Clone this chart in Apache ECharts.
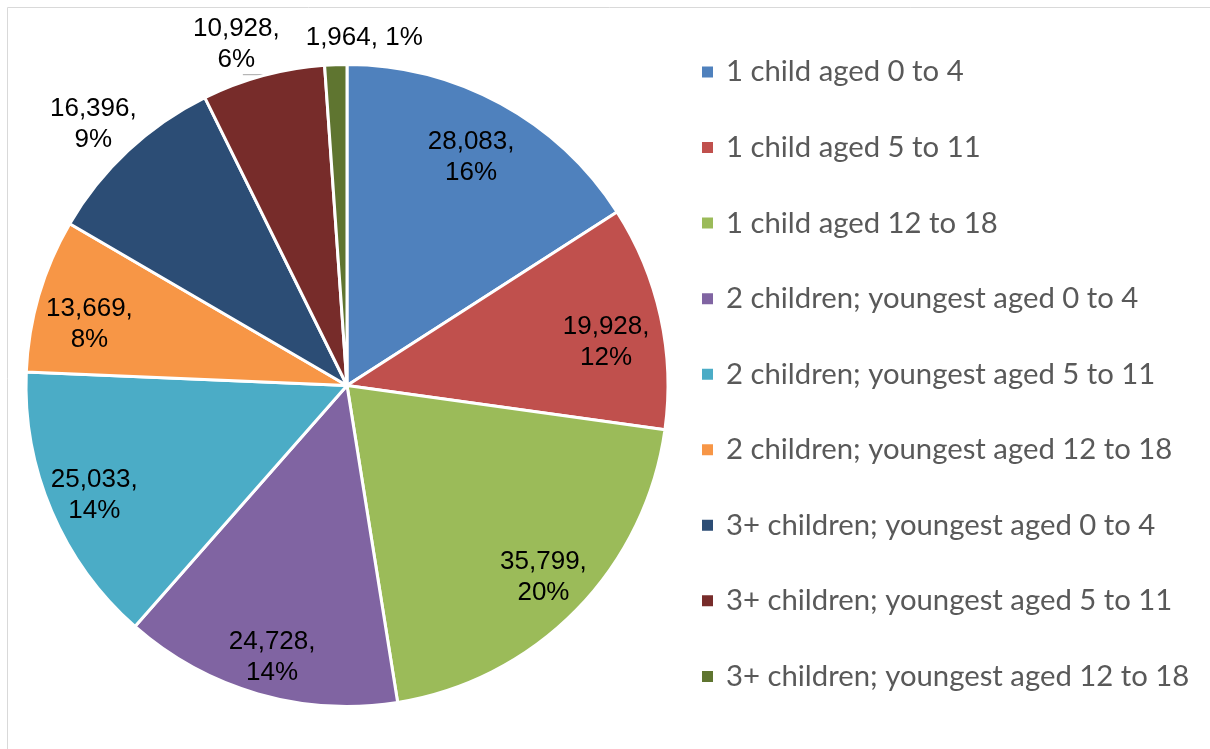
<!DOCTYPE html>
<html>
<head>
<meta charset="utf-8">
<script src="https://cdn.jsdelivr.net/npm/echarts@6/dist/echarts.min.js"></script>
<style>html,body{margin:0;padding:0;background:#fff}#chart{width:1210px;height:749px}</style>
</head>
<body>
<div id="chart"></div>
<script>
const categories = [
  '1 child aged 0 to 4',
  '1 child aged 5 to 11',
  '1 child aged 12 to 18',
  '2 children; youngest aged 0 to 4',
  '2 children; youngest aged 5 to 11',
  '2 children; youngest aged 12 to 18',
  '3+ children; youngest aged 0 to 4',
  '3+ children; youngest aged 5 to 11',
  '3+ children; youngest aged 12 to 18'
];
const values = [28083, 19928, 35799, 24728, 25033, 13669, 16396, 10928, 1964];
const colors = ['#4F81BD', '#C0504D', '#9BBB59', '#8064A2', '#4BACC6', '#F79646', '#2C4D75', '#772C2A', '#5F7530'];
const outsideLabels = [6, 7, 8];          // indices whose labels sit outside the pie
const singleLineLabels = [8];             // labels written on one line
const leaderLineLabels = [7];             // labels with a leader line
// small label position nudges (px)
const labelNudge = {0: [-5, 8], 1: [-4, 15], 2: [4, 3], 3: [0, 13], 4: [-5, 4], 5: [1, 15], 6: [-4, 6], 7: [-15, 12], 8: [30, 18]};

const center = [347, 385.5];
const R = 321;
const labelFont = {fontFamily: '"Liberation Sans", Arial, sans-serif', fontSize: 26, lineHeight: 31, color: '#000'};

function fmt(p) {
  const v = p.value.toLocaleString('en-US');
  return singleLineLabels.includes(p.dataIndex) ? v + ', ' + p.percent + '%' : v + ',\n' + p.percent + '%';
}
function nudge(p) {
  const n = labelNudge[p.dataIndex];
  return n ? {dx: n[0], dy: n[1]} : {};
}

const baseData = categories.map((c, i) => ({
  name: c,
  value: values[i],
  itemStyle: {color: colors[i]},
  label: leaderLineLabels.includes(i) ? {show: true, formatter: ' ', position: 'outside'} : {show: false},
  labelLine: leaderLineLabels.includes(i) ? {show: true, length: 1, length2: 20, lineStyle: {color: '#A6A6A6', width: 1}} : {show: false}
}));

const innerData = categories.map((c, i) => ({
  name: c, value: values[i],
  label: {show: !outsideLabels.includes(i)}
}));
const outerData = categories.map((c, i) => ({
  name: c, value: values[i],
  label: {show: outsideLabels.includes(i)}
}));

const overlayCommon = {
  type: 'pie', center: center, startAngle: 90, clockwise: true,
  percentPrecision: 0, silent: true, avoidLabelOverlap: false,
  itemStyle: {color: 'rgba(0,0,0,0)', borderWidth: 0},
  label: Object.assign({position: 'inside', formatter: fmt, align: 'center'}, labelFont),
  labelLine: {show: false},
  labelLayout: nudge,
  emphasis: {disabled: true},
  animation: false
};

const chart = echarts.init(document.getElementById('chart'));
chart.setOption({
  animation: false,
  graphic: [{
    type: 'rect', silent: true,
    shape: {x: 7.5, y: 7.5, width: 1220, height: 780},
    style: {fill: 'none', stroke: '#D9D9D9', lineWidth: 1}
  }],
  legend: {
    orient: 'vertical', left: 695, top: 50,
    icon: 'rect', itemWidth: 13, itemHeight: 13, itemGap: 41.55,
    selectedMode: false,
    textStyle: {fontFamily: 'Lato, "Open Sans", sans-serif', fontSize: 29.3, lineHeight: 34, color: '#595959', padding: [0, 0, 0, 7]},
    data: categories
  },
  series: [
    {
      type: 'pie', name: 'main', center: center, radius: R, startAngle: 90, clockwise: true,
      percentPrecision: 0, avoidLabelOverlap: false,
      itemStyle: {borderColor: '#fff', borderWidth: 3},
      emphasis: {disabled: true},
      data: baseData
    },
    Object.assign({}, overlayCommon, {name: 'inner', radius: [R * 0.66, R], data: innerData}),
    Object.assign({}, overlayCommon, {name: 'outer', radius: [R, R + 84], data: outerData})
  ]
});
</script>
</body>
</html>
